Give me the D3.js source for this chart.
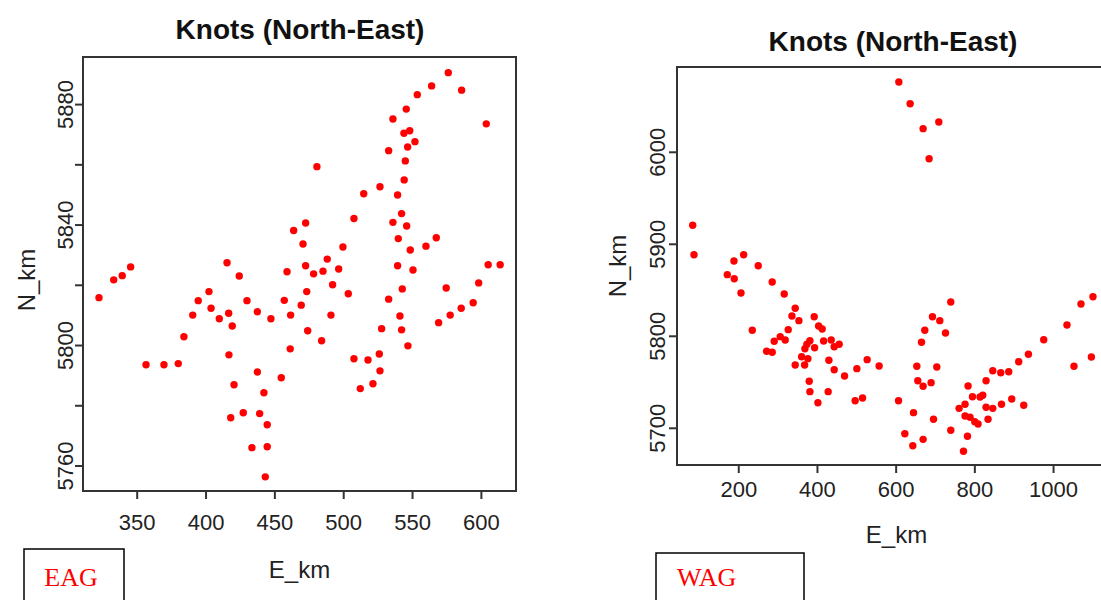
<!DOCTYPE html>
<html><head><meta charset="utf-8">
<script src="https://cdn.jsdelivr.net/npm/d3@7"></script>
<style>body{margin:0;background:#fff;} svg{display:block;}</style>
</head><body>
<svg id="c" width="1101" height="600"></svg>
<script>
// ---- data ----
const titles = ["Knots (North-East)", "Knots (North-East)"];
const xLabel = "E_km", yLabel = "N_km";
const panelNames = ["EAG", "WAG"];

const eagXTicks = [350, 400, 450, 500, 550, 600];
const eagYTicks = [5760, 5780, 5800, 5820, 5840, 5860, 5880];
const eagYTickLabels = [5760, 5800, 5840, 5880];
const wagXTicks = [200, 400, 600, 800, 1000];
const wagYTicks = [5700, 5800, 5900, 6000];
const wagYTickLabels = [5700, 5800, 5900, 6000];

const eagE = [576.3,564.2,586.0,553.8,545.8,536.1,603.9,544.1,548.3,552.1,546.8,533.0,545.1,480.9,544.3,526.7,514.9,539.5,542.4,507.8,536.1,546.1,472.7,464.0,470.8,540.0,548.7,560.1,567.6,499.8,488.4,496.7,485.3,478.5,472.7,459.2,415.6,424.5,345.6,339.5,333.3,322.6,539.5,550.7,605.3,614.0,598.4,574.8,542.9,533.0,492.3,503.7,473.5,469.5,457.2,461.8,447.5,437.6,430.1,416.8,410.0,419.4,404.0,402.5,394.7,390.7,384.3,491.1,474.2,484.3,461.5,417.0,541.2,527.9,542.4,547.0,569.3,577.7,585.7,594.4,526.2,507.8,518.0,526.7,521.6,512.4,356.8,369.8,380.2,437.6,455.0,420.7,442.4,418.3,427.4,439.3,444.8,433.7,444.8,443.4];
const eagN = [5890.6,5886.2,5884.8,5883.3,5878.5,5875.2,5873.6,5870.5,5871.3,5867.7,5865.9,5864.7,5861.3,5859.4,5855.0,5852.7,5850.4,5850.0,5843.8,5842.2,5840.9,5839.7,5840.7,5838.2,5833.7,5835.5,5831.7,5833.0,5835.8,5832.7,5828.7,5825.4,5824.7,5823.8,5826.5,5824.5,5827.5,5823.1,5826.1,5823.2,5821.8,5815.9,5826.5,5825.1,5826.8,5826.8,5820.8,5819.1,5818.8,5815.4,5820.2,5817.2,5817.9,5813.4,5815.0,5810.1,5808.9,5811.2,5814.9,5810.7,5808.9,5806.5,5812.4,5817.9,5814.9,5810.1,5802.9,5810.1,5804.9,5801.6,5798.9,5796.9,5809.8,5805.6,5805.2,5799.9,5807.6,5810.1,5812.4,5814.2,5797.2,5795.6,5795.2,5791.6,5787.3,5785.7,5793.6,5793.6,5794.0,5791.2,5789.3,5787.0,5784.3,5776.0,5777.7,5777.4,5773.7,5766.1,5766.4,5756.4];

const wagE = [608.1,636.8,669.8,709.7,685.0,84.2,87.5,213.7,189.1,172.1,189.8,250.8,206.9,286.3,316.8,235.6,344.7,336.4,354.1,393.0,404.2,413.3,327.0,306.7,319.3,291.4,272.1,286.3,382.1,374.5,369.4,394.0,361.0,377.0,344.7,368.6,416.9,436.2,443.8,456.5,430.3,443.8,380.3,382.1,402.4,428.5,470.2,501.4,527.6,558.0,497.1,515.9,607.3,645.4,623.3,643.6,669.8,696.2,740.1,653.8,656.3,669.8,690.1,704.6,665.7,674.1,693.6,712.2,726.7,740.1,761.2,776.4,784.1,795.2,814.5,821.4,776.4,789.1,801.1,809.4,782.5,772.4,829.8,846.8,834.8,868.9,895.0,925.5,829.8,846.8,867.1,887.4,912.8,937.4,976.3,1035.4,1071.0,1101.5,1053.2,1097.4];
const wagN = [6076.4,6052.8,6025.7,6032.9,5993.0,5920.7,5888.7,5888.7,5881.8,5867.0,5862.6,5876.7,5847.1,5859.0,5846.0,5806.5,5830.4,5822.1,5817.0,5821.3,5811.2,5807.9,5807.2,5799.6,5796.0,5794.6,5783.7,5782.6,5795.2,5791.3,5786.5,5787.6,5777.8,5775.7,5768.8,5768.8,5794.9,5796.0,5788.7,5791.3,5773.9,5763.7,5751.1,5739.8,5727.8,5739.8,5756.8,5764.8,5774.6,5767.7,5730.0,5732.9,5730.0,5717.0,5694.1,5681.1,5688.0,5709.8,5697.8,5767.4,5751.7,5745.7,5749.6,5766.6,5793.5,5806.5,5821.3,5817.0,5803.6,5837.3,5721.7,5726.1,5746.0,5734.3,5734.0,5735.9,5713.4,5712.0,5707.2,5704.7,5691.3,5675.0,5722.8,5721.7,5709.8,5726.1,5731.8,5725.0,5751.7,5762.6,5760.4,5761.5,5772.4,5780.4,5796.3,5812.3,5835.1,5843.0,5767.4,5777.5];

// ---- layout ----
const svg = d3.select("#c");
const font = "Arial, 'Liberation Sans', Helvetica, sans-serif";
const axisCol = "#333";

const panels = [
  { E: eagE, N: eagN, xd: [311.0, 625.5], yd: [5751.7, 5895.8],
    box: {l: 83, r: 516, t: 57, b: 491},
    xt: eagXTicks, yt: eagYTicks, ytl: eagYTickLabels,
    titleX: 300, titleY: 39, xTickBase: 530, yTickBase: 73, xLabY: 578, yLabX: 35, yLabCY: 280,
    name: panelNames[0], nbox: {x: 24, y: 549, w: 100}, nameX: 71, nameAnchor: "middle" },
  { E: wagE, N: wagN, xd: [44.3, 1160], yd: [5660.1, 6092.7],
    box: {l: 677, r: 1116, t: 67, b: 465},
    xt: wagXTicks, yt: wagYTicks, ytl: wagYTickLabels,
    titleX: 893, titleY: 51, xTickBase: 497, yTickBase: 665, xLabY: 543, yLabX: 626, yLabCY: 266,
    name: panelNames[1], nbox: {x: 656, y: 553, w: 148}, nameX: 677, nameAnchor: "start" }
];

panels.forEach((p, i) => {
  const b = p.box;
  const x = d3.scaleLinear().domain(p.xd).range([b.l, b.r]);
  const y = d3.scaleLinear().domain(p.yd).range([b.b, b.t]);
  const g = svg.append("g");

  // x axis
  const xa = g.append("g").attr("transform", `translate(0,${b.b})`)
    .call(d3.axisBottom(x).tickValues(p.xt).tickSize(8).tickFormat(d3.format("d")));
  xa.select(".domain").remove();
  xa.selectAll("line").attr("stroke", axisCol).attr("stroke-width", 2);
  xa.selectAll("text").attr("font-family", font).attr("font-size", 22).attr("fill", "#222")
    .attr("y", p.xTickBase - b.b).attr("dy", 0);

  // y axis
  const ya = g.append("g").attr("transform", `translate(${b.l},0)`)
    .call(d3.axisLeft(y).tickValues(p.yt).tickSize(8).tickFormat(d => p.ytl.includes(d) ? d : ""));
  ya.select(".domain").remove();
  ya.selectAll("line").attr("stroke", axisCol).attr("stroke-width", 2);
  ya.selectAll("text").attr("font-family", font).attr("font-size", 22).attr("fill", "#222")
    .attr("x", null).attr("dy", null)
    .attr("transform", d => `translate(${p.yTickBase - b.l},${y(d)}) rotate(-90)`)
    .attr("y", 0).attr("text-anchor", "middle");
  ya.selectAll(".tick").attr("transform", "translate(0,0)");
  ya.selectAll(".tick line").attr("y1", d => y(d)).attr("y2", d => y(d));

  // box
  g.append("rect").attr("x", b.l).attr("y", b.t).attr("width", b.r - b.l).attr("height", b.b - b.t)
    .attr("fill", "none").attr("stroke", axisCol).attr("stroke-width", 2);

  // points
  g.append("g").selectAll("circle").data(p.E.map((e, k) => [e, p.N[k]])).join("circle")
    .attr("cx", d => x(d[0])).attr("cy", d => y(d[1])).attr("r", 3.7).attr("fill", "#ff0000");

  // title
  g.append("text").attr("x", p.titleX).attr("y", p.titleY)
    .attr("text-anchor", "middle").attr("font-family", font).attr("font-weight", "bold")
    .attr("font-size", 28).attr("fill", "#111").text(titles[i]);

  // axis labels
  g.append("text").attr("x", (b.l + b.r) / 2).attr("y", p.xLabY).attr("text-anchor", "middle")
    .attr("font-family", font).attr("font-size", 24).attr("fill", "#222").text(xLabel);
  g.append("text").attr("transform", `translate(${p.yLabX},${p.yLabCY}) rotate(-90)`)
    .attr("text-anchor", "middle").attr("font-family", font).attr("font-size", 24).attr("fill", "#222").text(yLabel);

  // name box
  g.append("rect").attr("x", p.nbox.x).attr("y", p.nbox.y).attr("width", p.nbox.w).attr("height", 80)
    .attr("fill", "#fff").attr("stroke", "#000").attr("stroke-width", 1.5);
  g.append("text").attr("x", p.nameX).attr("y", 586).attr("text-anchor", p.nameAnchor)
    .attr("font-family", "'Liberation Serif', 'Times New Roman', serif").attr("font-size", 26)
    .attr("fill", "#ff0000").text(p.name);
});
</script>
</body></html>
